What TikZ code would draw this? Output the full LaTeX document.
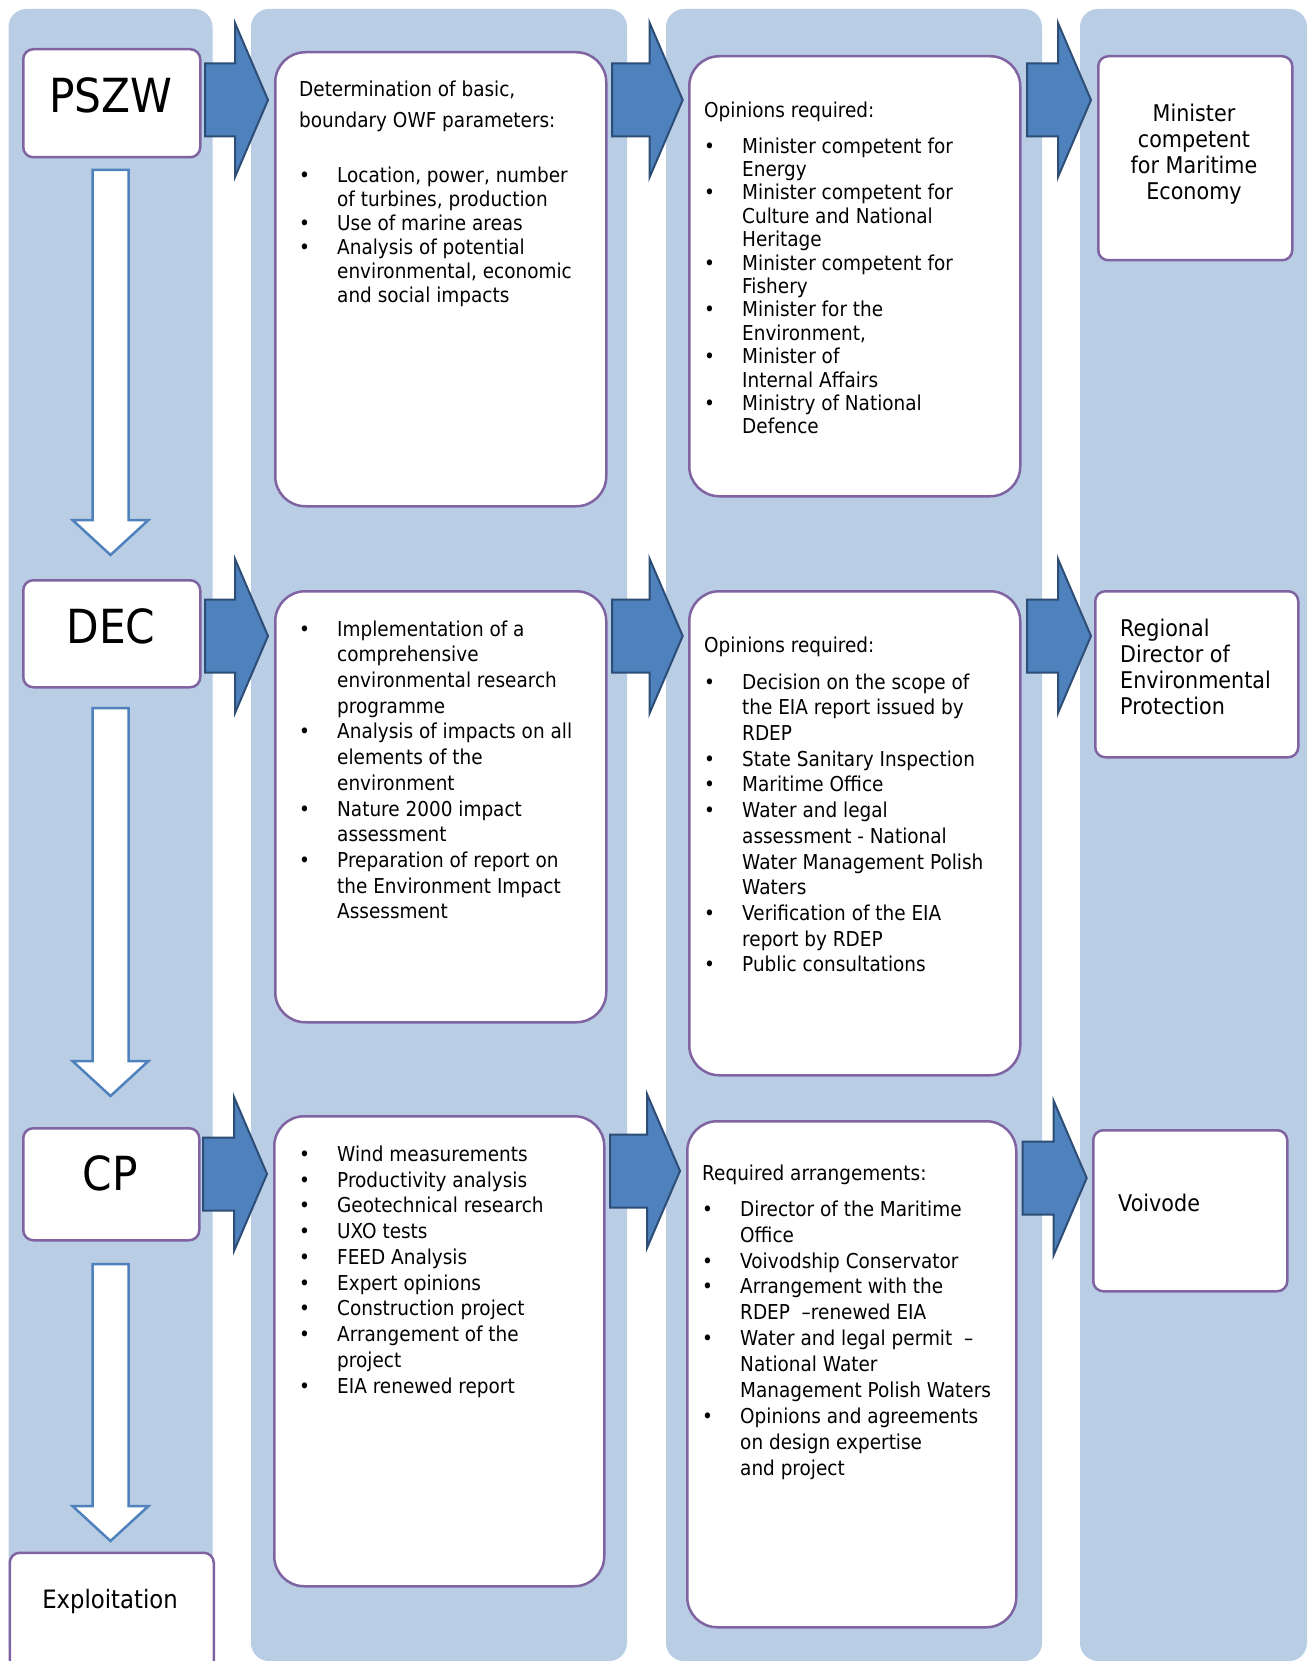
\documentclass[tikz,border=0pt]{standalone}
\usepackage{fontspec}
\setmainfont{DejaVu Sans}[FakeStretch=0.9]
\usetikzlibrary{calc}

\definecolor{colbg}{HTML}{B9CDE5}
\definecolor{boxline}{HTML}{8064A2}
\definecolor{arrowfill}{HTML}{4F81BD}
\definecolor{arrowline}{HTML}{2C4D75}

% bullet item and continuation line of a list
\newcommand\bitem{\makebox[38pt][l]{\textbullet}}
\newcommand\bcont{\hspace*{38pt}}

% block arrow pointing right, from tail coordinate to tip coordinate
\newcommand\rblock[2]{%
  \draw[rblk] ($(#1)+(0,-36.5)$) -- ($(#2)+(-33,-36.5)$) -- ($(#2)+(-33,-77)$)
    -- (#2) -- ($(#2)+(-33,77)$) -- ($(#2)+(-33,36.5)$) -- ($(#1)+(0,36.5)$) -- cycle;}
% hollow block arrow pointing down
\newcommand\dblock[2]{%
  \draw[dblk] ($(#1)+(-18,0)$) -- ($(#1)+(18,0)$) -- ($(#2)+(18,-35)$) -- ($(#2)+(38,-35)$)
    -- (#2) -- ($(#2)+(-38,-35)$) -- ($(#2)+(-18,-35)$) -- cycle;}

\begin{document}
\begin{tikzpicture}[x=1pt,y=-1pt,
  colband/.style={fill=colbg, draw=none, rounded corners=18pt},
  sbox/.style={draw=boxline, fill=white, line width=2.5pt, rounded corners=10pt,
    inner sep=0pt, anchor=north west},
  bbox/.style={draw=boxline, fill=white, line width=2.5pt, rounded corners=30pt,
    inner sep=0pt, anchor=north west},
  rblk/.style={fill=arrowfill, draw=arrowline, line width=2pt, line join=miter},
  dblk/.style={fill=white, draw=arrowfill, line width=2.5pt, line join=miter},
  txt/.style={inner sep=0pt, anchor=north west, align=left},
  big/.style={inner sep=0pt, anchor=base, font=\fontsize{47}{50}\selectfont},
]
\useasboundingbox (0,0) rectangle (1309,1661);

% column bands
\path[colband] (8.5,9) rectangle (212.5,1661);
\path[colband] (251,9) rectangle (627,1661);
\path[colband] (666,9) rectangle (1042,1661);
\path[colband] (1080,9) rectangle (1307,1661);

% stage boxes, first column
\node[sbox, minimum width=177pt, minimum height=108pt] (pszw) at (22,48) {};
\node[sbox, minimum width=177pt, minimum height=107pt] (dec) at (22,579) {};
\node[sbox, minimum width=176pt, minimum height=112pt] (cp) at (22,1127) {};
\node[sbox, minimum width=204pt, minimum height=160pt] (expl) at (8.5,1551.5) {};

\node[big] (pszwt) at (110.7,112.5) {PSZW};
\node[big] (dect) at (111,643.6) {DEC};
\node[big] (cpt) at (110,1190) {CP};
\node[inner sep=0pt, anchor=base, font=\fontsize{25.3}{28}\selectfont] (explt) at (110,1608) {Exploitation};

% content boxes
\node[bbox, minimum width=331pt, minimum height=454pt] (b21) at (274,51) {};
\node[bbox, minimum width=331pt, minimum height=431pt] (b22) at (274,590) {};
\node[bbox, minimum width=330pt, minimum height=470pt] (b23) at (273,1115) {};
\node[bbox, minimum width=331pt, minimum height=440pt] (b31) at (688,55) {};
\node[bbox, minimum width=331pt, minimum height=484pt] (b32) at (688,590) {};
\node[bbox, minimum width=329pt, minimum height=506pt] (b33) at (686,1120) {};
\node[sbox, minimum width=194pt, minimum height=204pt] (b41) at (1097,55) {};
\node[sbox, minimum width=203pt, minimum height=166pt] (b42) at (1094,590) {};
\node[sbox, minimum width=194pt, minimum height=161pt] (b43) at (1092,1129) {};

% hollow arrows between stages
\coordinate (d1a) at (110.5,170);  \coordinate (d1b) at (110.5,555);
\coordinate (d2a) at (110.5,708);  \coordinate (d2b) at (110.5,1096);
\coordinate (d3a) at (110.5,1264); \coordinate (d3b) at (110.5,1541);
\dblock{d1a}{d1b}
\dblock{d2a}{d2b}
\dblock{d3a}{d3b}

% block arrows between columns
\coordinate (r1a) at (205,100);    \coordinate (r1b) at (268,100);
\coordinate (r1c) at (612,100);    \coordinate (r1d) at (682.7,100);
\coordinate (r1e) at (1027,100);   \coordinate (r1f) at (1091,100);
\coordinate (r2a) at (205,636);    \coordinate (r2b) at (268,636);
\coordinate (r2c) at (612,636);    \coordinate (r2d) at (682.7,636);
\coordinate (r2e) at (1027,636);   \coordinate (r2f) at (1091,636);
\coordinate (r3a) at (203,1174);   \coordinate (r3b) at (267,1174);
\coordinate (r3c) at (610,1171);   \coordinate (r3d) at (680,1171);
\coordinate (r3e) at (1022.7,1178);\coordinate (r3f) at (1086.7,1178);
\rblock{r1a}{r1b} \rblock{r1c}{r1d} \rblock{r1e}{r1f}
\rblock{r2a}{r2b} \rblock{r2c}{r2d} \rblock{r2e}{r2f}
\rblock{r3a}{r3b} \rblock{r3c}{r3d} \rblock{r3e}{r3f}

% texts, first row
\node[txt, font=\fontsize{20.5}{24}\selectfont] (t21) at (299,79.2) {%
\strut Determination of basic,\\[7pt]
boundary OWF parameters:\\[31pt]
\bitem Location, power, number\\
\bcont of turbines, production\\
\bitem Use of marine areas\\
\bitem Analysis of potential\\
\bcont environmental, economic\\
\bcont and social impacts};

\node[txt, font=\fontsize{20.5}{23.4}\selectfont] (t31) at (704,100.6) {%
\strut Opinions required:\\[12.6pt]
\bitem Minister competent for\\
\bcont Energy\\
\bitem Minister competent for\\
\bcont Culture and National\\
\bcont Heritage\\
\bitem Minister competent for\\
\bcont Fishery\\
\bitem Minister for the\\
\bcont Environment,\\
\bitem Minister of\\
\bcont Internal Affairs\\
\bitem Ministry of National\\
\bcont Defence};

\node[inner sep=0pt, anchor=north, align=center, font=\fontsize{23}{26}\selectfont] (t41) at (1194,102.8) {%
\strut Minister\\ competent\\ for Maritime\\ Economy};

% texts, second row
\node[txt, font=\fontsize{20.5}{25.7}\selectfont] (t22) at (299,618) {%
\strut\bitem Implementation of a\\
\bcont comprehensive\\
\bcont environmental research\\
\bcont programme\\
\bitem Analysis of impacts on all\\
\bcont elements of the\\
\bcont environment\\
\bitem Nature 2000 impact\\
\bcont assessment\\
\bitem Preparation of report on\\
\bcont the Environment Impact\\
\bcont Assessment};

\node[txt, font=\fontsize{20.5}{25.7}\selectfont] (t32) at (704,634) {%
\strut Opinions required:\\[11.3pt]
\bitem Decision on the scope of\\
\bcont the EIA report issued by\\
\bcont RDEP\\
\bitem State Sanitary Inspection\\
\bitem Maritime Office\\
\bitem Water and legal\\
\bcont assessment - National\\
\bcont Water Management Polish\\
\bcont Waters\\
\bitem Verification of the EIA\\
\bcont report by RDEP\\
\bitem Public consultations};

\node[txt, font=\fontsize{23}{26}\selectfont] (t42) at (1120,617.8) {%
\strut Regional\\ Director of\\ Environmental\\ Protection};

% texts, third row
\node[txt, font=\fontsize{20.5}{25.76}\selectfont] (t23) at (299,1143) {%
\strut\bitem Wind measurements\\
\bitem Productivity analysis\\
\bitem Geotechnical research\\
\bitem UXO tests\\
\bitem FEED Analysis\\
\bitem Expert opinions\\
\bitem Construction project\\
\bitem Arrangement of the\\
\bcont project\\
\bitem EIA renewed report};

\node[txt, font=\fontsize{20.5}{25.95}\selectfont] (t33) at (702,1161.8) {%
\strut Required arrangements:\\[10pt]
\bitem Director of the Maritime\\
\bcont Office\\
\bitem Voivodship Conservator\\
\bitem Arrangement with the\\
\bcont RDEP\ \ –renewed EIA\\
\bitem Water and legal permit\ \ –\\
\bcont National Water\\
\bcont Management Polish Waters\\
\bitem Opinions and agreements\\
\bcont on design expertise\\
\bcont and project};

\node[inner sep=0pt, anchor=base west, font=\fontsize{23}{26}\selectfont] (t43) at (1118,1211) {Voivode};
\end{tikzpicture}
\end{document}
